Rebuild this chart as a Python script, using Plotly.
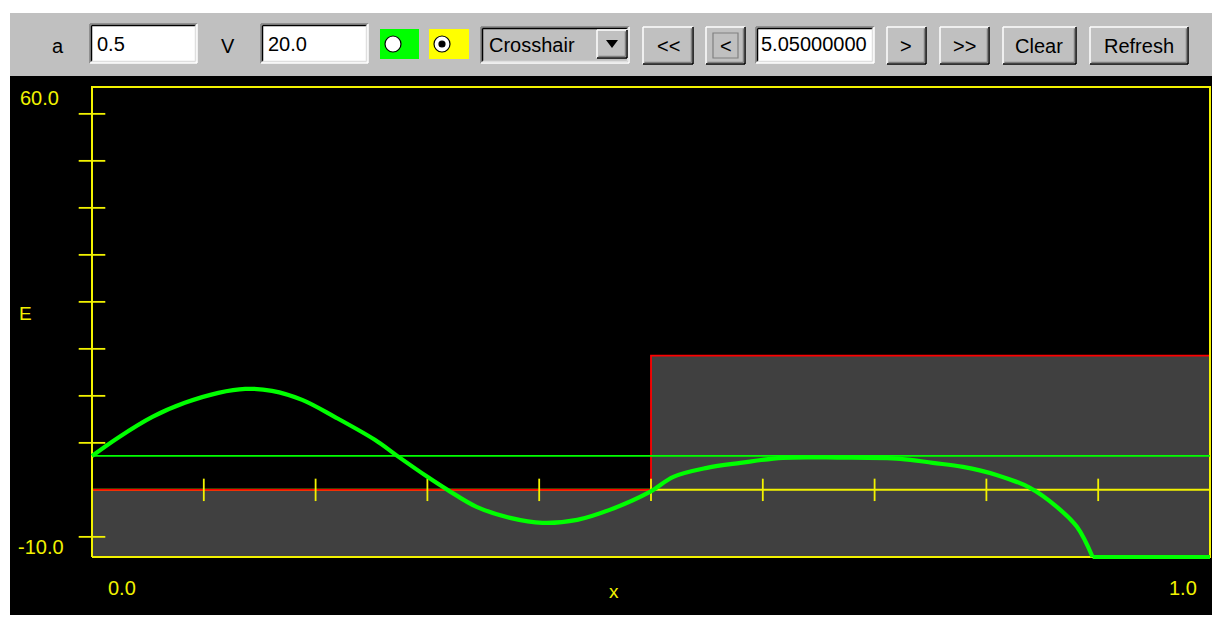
import plotly.graph_objects as go

# ---------------- data ----------------
a_width = 0.5          # well width a
V0 = 20.0              # barrier height V
E_level = 5.05         # trial energy

pot_x = [0.0, 0.5, 0.5, 1.0]
pot_V = [0.0, 0.0, 20.0, 20.0]

x_ticks = [0.1, 0.2, 0.3, 0.4, 0.5, 0.6, 0.7, 0.8, 0.9]
y_ticks = [-7, 7, 14, 21, 28, 35, 42, 49, 56]

psi_x = [0.0, 0.023, 0.054, 0.083, 0.113, 0.137, 0.161, 0.188, 0.217, 0.253,
         0.273, 0.300, 0.318, 0.344, 0.374, 0.403, 0.434, 0.463, 0.499, 0.520,
         0.550, 0.580, 0.618, 0.669, 0.723, 0.752, 0.779, 0.809, 0.839, 0.863,
         0.881, 0.895]
psi_E = [5.05, 7.74, 10.87, 12.96, 14.45, 15.04, 14.75, 13.40, 10.87, 7.45,
         5.06, 1.94, 0.0, -2.53, -4.17, -4.92, -4.47, -2.98, -0.30, 1.94,
         3.28, 4.02, 4.77, 4.80, 4.62, 4.02, 3.43, 2.23, 0.30, -2.53,
         -5.51, -10.0]
tail_x = [0.895, 1.0]
tail_E = [-10.0, -10.0]

x_range = [0.0, 1.0]
y_range = [-10.0, 60.0]

# ---------------- layout helpers ----------------
OFF = 8                      # page body margin
W, H = 1220 - OFF, 621 - OFF
YEL = "#f2f200"
GRN = "#00ff00"
FONT = "Liberation Sans, Arial, sans-serif"
shapes = []
annots = []


def PX(x):
    return (x - OFF) / W


def PY(y):
    return 1 - (y - OFF) / H


def rect(x0, y0, x1, y1, fill, lc=None, lw=0, layer="below"):
    shapes.append(dict(type="rect", xref="paper", yref="paper", layer=layer,
                       x0=PX(x0), x1=PX(x1), y0=PY(y1), y1=PY(y0),
                       fillcolor=fill, line=dict(width=lw, color=lc or fill)))


def seg(x0, y0, x1, y1, color, w=1.5, layer="below"):
    shapes.append(dict(type="line", xref="paper", yref="paper", layer=layer,
                       x0=PX(x0), x1=PX(x1), y0=PY(y0), y1=PY(y1),
                       line=dict(color=color, width=w)))


def raised(x0, y0, x1, y1):
    rect(x0, y0, x1, y1, "#c0c0c0")
    seg(x0, y0, x1, y0, "#ffffff")
    seg(x0, y0, x0, y1, "#ffffff")
    seg(x0, y1, x1, y1, "#000000")
    seg(x1, y0, x1, y1, "#000000")
    seg(x0 + 1.5, y1 - 1.5, x1 - 1.5, y1 - 1.5, "#808080")
    seg(x1 - 1.5, y0 + 1.5, x1 - 1.5, y1 - 1.5, "#808080")


def sunken(x0, y0, x1, y1, fill="#ffffff"):
    rect(x0, y0, x1, y1, fill)
    seg(x0, y0, x1, y0, "#808080")
    seg(x0, y0, x0, y1, "#808080")
    seg(x0 + 1.5, y0 + 1.5, x1 - 1.5, y0 + 1.5, "#000000")
    seg(x0 + 1.5, y0 + 1.5, x0 + 1.5, y1 - 1.5, "#000000")
    seg(x0, y1, x1, y1, "#ffffff")
    seg(x1, y0, x1, y1, "#ffffff")
    seg(x0 + 1.5, y1 - 1.5, x1 - 1.5, y1 - 1.5, "#dfdfdf")
    seg(x1 - 1.5, y0 + 1.5, x1 - 1.5, y1 - 1.5, "#dfdfdf")


def text(x, y, s, size=20, color="#000000", anchor="left"):
    annots.append(dict(x=PX(x), y=PY(y), xref="paper", yref="paper", text=s,
                       showarrow=False, xanchor=anchor, yanchor="middle",
                       font=dict(family=FONT, size=size, color=color)))


def circle(cx, cy, r, fill, lc, lw=1.2):
    shapes.append(dict(type="circle", xref="paper", yref="paper", layer="below",
                       x0=PX(cx - r), x1=PX(cx + r), y0=PY(cy + r), y1=PY(cy - r),
                       fillcolor=fill, line=dict(color=lc, width=lw)))


# applet background
rect(10, 13, 1218, 76, "#c0c0c0")
rect(10, 76, 1218, 615, "#000000")

# toolbar
text(50, 46, "a")
sunken(90, 24, 197, 63)
text(95, 44, "0.5")
text(219, 46, "V")
sunken(261, 24, 368, 63)
text(266, 44, "20.0")
rect(380, 29, 419, 59, "#00ff00")
circle(393, 44, 8, "#ffffff", "#000000")
rect(429, 29, 469, 59, "#ffff00")
circle(442, 44, 8, "#ffffff", "#000000")
circle(442, 44, 3, "#000000", "#000000")
sunken(481, 27, 629, 63, "#c0c0c0")
text(487, 45, "Crosshair")
raised(597, 30, 627, 58)
shapes.append(dict(type="path", xref="paper", yref="paper", layer="below",
                   path="M %f %f L %f %f L %f %f Z" % (PX(606), PY(40), PX(618), PY(40),
                                                      PX(612), PY(48)),
                   fillcolor="#000000", line=dict(width=0)))
raised(643, 27, 693, 64)
text(668, 46, "<<", anchor="center")
raised(706, 27, 745, 64)
rect(713, 33, 738, 58, "#c0c0c0", lc="#808080", lw=1.2)
text(726, 46, "<", anchor="center")
sunken(756, 27, 874, 63)
text(759, 44, "5.05000000")
raised(887, 27, 926, 64)
text(906, 46, ">", anchor="center")
raised(940, 27, 989, 64)
text(964, 46, ">>", anchor="center")
raised(1003, 27, 1076, 64)
text(1039, 46, "Clear", anchor="center")
raised(1090, 27, 1188, 64)
text(1139, 46, "Refresh", anchor="center")

# plot labels
text(18, 98, "60.0", size=20, color=YEL)
text(17, 314, "E", size=19, color=YEL)
text(16, 547, "-10.0", size=20, color=YEL)
text(106, 588, "0.0", size=20, color=YEL)
text(614, 591, "x", size=19, color=YEL, anchor="center")
text(1199, 588, "1.0", size=20, color=YEL, anchor="right")

# ---------------- traces ----------------
fig = go.Figure()

# potential region (grey)
fig.add_trace(go.Scatter(
    x=[pot_x[0]] + pot_x + [pot_x[-1]],
    y=[y_range[0]] + pot_V + [y_range[0]],
    fill="toself", fillcolor="#404040", mode="lines", line=dict(width=0),
    hoverinfo="skip"))

# x axis line at E = 0
fig.add_trace(go.Scatter(x=x_range, y=[0, 0], mode="lines",
                         line=dict(color=YEL, width=2)))
# potential line (red)
fig.add_trace(go.Scatter(x=pot_x, y=pot_V, mode="lines",
                         line=dict(color="#ff0000", width=1.8)))
# frame
fig.add_trace(go.Scatter(
    x=[x_range[0], x_range[1], x_range[1], x_range[0], x_range[0]],
    y=[y_range[0], y_range[0], y_range[1], y_range[1], y_range[0]],
    mode="lines", line=dict(color=YEL, width=2.0), cliponaxis=False))
# ticks
fig.add_trace(go.Scatter(x=[0.0] * len(y_ticks), y=y_ticks, mode="markers",
                         cliponaxis=False,
                         marker=dict(symbol="line-ew", size=19,
                                     line=dict(color=YEL, width=1.8))))
fig.add_trace(go.Scatter(x=x_ticks, y=[0.0] * len(x_ticks), mode="markers",
                         cliponaxis=False,
                         marker=dict(symbol="line-ns", size=16,
                                     line=dict(color=YEL, width=1.8))))
# energy level
fig.add_trace(go.Scatter(x=x_range, y=[E_level, E_level], mode="lines",
                         line=dict(color=GRN, width=1.8)))
# wavefunction
fig.add_trace(go.Scatter(x=psi_x, y=psi_E, mode="lines", cliponaxis=False,
                         line=dict(color=GRN, width=4.2, shape="spline", smoothing=1.0)))
fig.add_trace(go.Scatter(x=tail_x, y=tail_E, mode="lines", cliponaxis=False,
                         line=dict(color=GRN, width=4.2)))

# pixel geometry of the data frame (x 0..1 -> px 92..1210, E -10..60 -> py 557..87)
px0, px1, py_bot, py_top = 92, 1210, 557, 87
padpx = 5
sx = (x_range[1] - x_range[0]) / (px1 - px0)
sy = (y_range[1] - y_range[0]) / (py_bot - py_top)
xr = [x_range[0] - padpx * sx, x_range[1] + padpx * sx]
yr = [y_range[0] - padpx * sy, y_range[1] + padpx * sy]

fig.update_layout(
    width=W, height=H, margin=dict(l=0, r=0, t=0, b=0),
    paper_bgcolor="#ffffff", plot_bgcolor="rgba(0,0,0,0)",
    showlegend=False, shapes=shapes, annotations=annots,
    xaxis=dict(domain=[PX(px0 - padpx), PX(px1 + padpx)], range=xr,
               visible=False, fixedrange=True),
    yaxis=dict(domain=[PY(py_bot + padpx), PY(py_top - padpx)], range=yr,
               visible=False, fixedrange=True),
)

fig.write_html("out.html", config={"displayModeBar": False})
